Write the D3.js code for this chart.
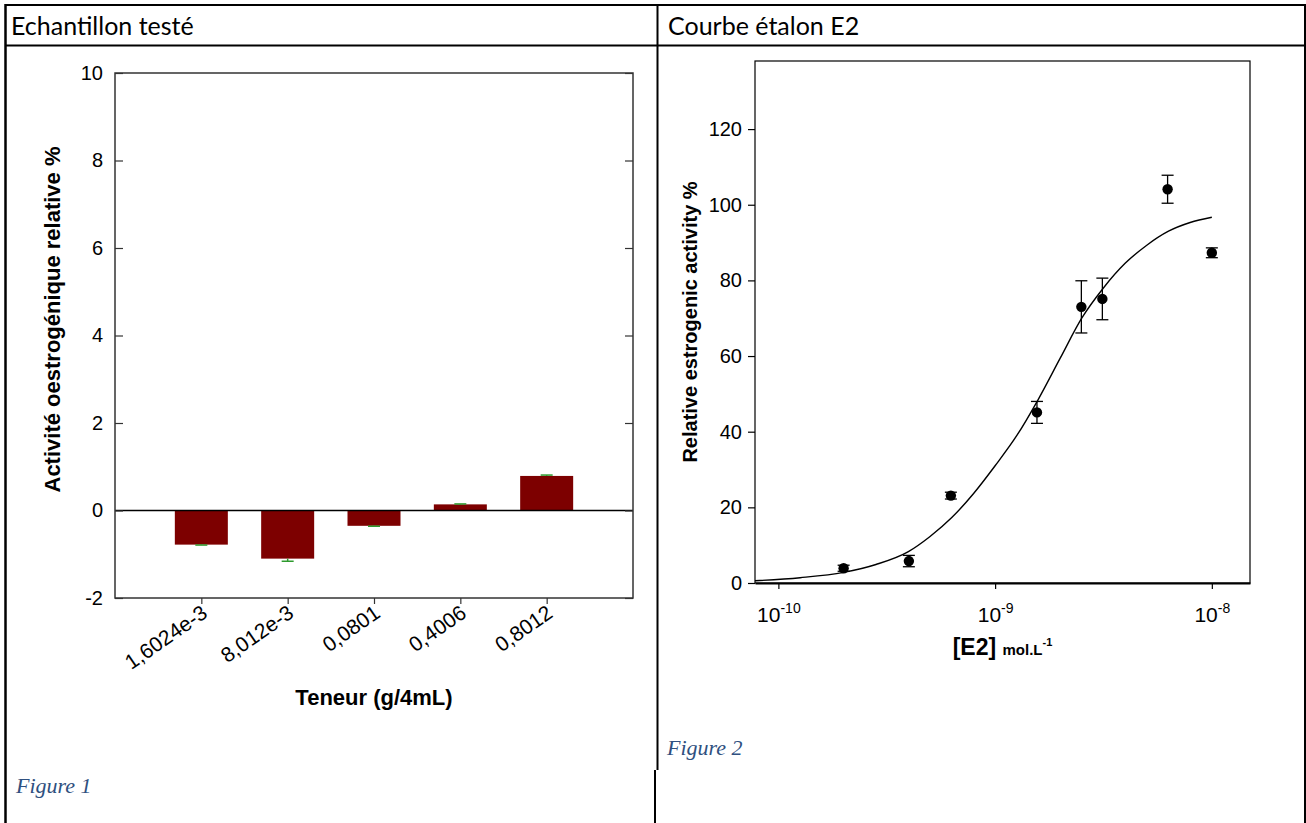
<!DOCTYPE html>
<html>
<head>
<meta charset="utf-8">
<script src="https://cdn.jsdelivr.net/npm/d3@7"></script>
<style>
    body { margin: 0; background: #fff; }
    svg text { font-family: "Liberation Sans", Arial, sans-serif; fill: #000; }
    .head { font-family: Lato, "Open Sans", sans-serif !important; font-size: 25px; }
    .caption { font-family: "Liberation Serif", serif !important; font-style: italic; font-size: 22px; fill: #2f5080 !important; }
    .axis-title { font-weight: bold; }
</style>
</head>
<body>
<svg id="page" width="1306" height="823"></svg>
<script>
// Figure 1 - tested sample
const teneurLabels = ["1,6024e-3", "8,012e-3", "0,0801", "0,4006", "0,8012"];
const activite = [-0.78, -1.10, -0.35, 0.14, 0.79];
const activiteErr = [0.01, 0.06, 0.01, 0.01, 0.02];
const leftTicks = [-2, 0, 2, 4, 6, 8, 10];

// Figure 2 - E2 standard curve
const e2Conc = [2e-10, 4e-10, 6.25e-10, 1.56e-9, 2.5e-9, 3.125e-9, 6.25e-9, 1e-8];
const e2Act = [3.9, 5.8, 23.1, 45.1, 73.0, 75.1, 104.1, 87.3];
const e2Err = [0.8, 1.5, 0.9, 2.9, 6.9, 5.5, 3.7, 1.3];
// fitted curve
const fitConc = [7.8e-11, 1.26e-10, 2.0e-10, 2.82e-10, 3.98e-10, 5.01e-10, 6.31e-10, 7.94e-10, 1e-9,
    1.26e-9, 1.58e-9, 2.0e-9, 2.51e-9, 3.16e-9, 3.98e-9, 5.01e-9, 6.31e-9, 7.94e-9, 1e-8];
const fitAct = [0.6, 1.4, 2.8, 4.9, 8.3, 12.3, 17.3, 23.6, 31.0,
    39.0, 48.5, 59.5, 70.0, 78.0, 84.5, 89.3, 93.0, 95.3, 96.7];
const rightYTicks = [0, 20, 40, 60, 80, 100, 120];
const rightXTicks = [1e-10, 1e-9, 1e-8];

const svg = d3.select("#page");

// Table lines
const grid = svg.append("g").attr("stroke", "#000").attr("stroke-width", 2);
grid.append("line").attr("x1", 5).attr("x2", 1306).attr("y1", 5).attr("y2", 5);
grid.append("line").attr("x1", 5).attr("x2", 1306).attr("y1", 45.5).attr("y2", 45.5);
grid.append("line").attr("x1", 5.5).attr("x2", 5.5).attr("y1", 4).attr("y2", 823).attr("stroke-width", 2.5);
grid.append("line").attr("x1", 657.5).attr("x2", 657.5).attr("y1", 4).attr("y2", 770);
grid.append("line").attr("x1", 655).attr("x2", 655).attr("y1", 770).attr("y2", 823);
grid.append("line").attr("x1", 1305).attr("x2", 1305).attr("y1", 4).attr("y2", 823);

svg.append("text").attr("class", "head").attr("x", 11).attr("y", 35).text("Echantillon testé");
svg.append("text").attr("class", "head").attr("x", 668).attr("y", 35).text("Courbe étalon E2");
svg.append("text").attr("class", "caption").attr("x", 16).attr("y", 793).text("Figure 1");
svg.append("text").attr("class", "caption").attr("x", 667).attr("y", 755).text("Figure 2");

// ---------- Left chart ----------
const L = { left: 115, right: 633, top: 73, bottom: 598 };
const lx = d3.scalePoint().domain(teneurLabels).range([L.left, L.right]).padding(1);
const ly = d3.scaleLinear().domain([-2, 10]).range([L.bottom, L.top]);
const barW = 53;

const left = svg.append("g");

// Bars
left.selectAll("rect.bar")
    .data(activite)
    .join("rect")
    .attr("class", "bar")
    .attr("x", (d, i) => lx(teneurLabels[i]) - barW / 2)
    .attr("y", d => ly(Math.max(0, d)))
    .attr("width", barW)
    .attr("height", d => Math.abs(ly(d) - ly(0)))
    .attr("fill", "#7d0000");

// Error bars (one sided, away from zero)
const errG = left.append("g").attr("stroke", "#2e9a2e").attr("stroke-width", 1.5);
activite.forEach((d, i) => {
    const cx = lx(teneurLabels[i]);
    const end = d < 0 ? d - activiteErr[i] : d + activiteErr[i];
    errG.append("line").attr("x1", cx).attr("x2", cx).attr("y1", ly(d)).attr("y2", ly(end));
    errG.append("line").attr("x1", cx - 6).attr("x2", cx + 6).attr("y1", ly(end)).attr("y2", ly(end));
});

// Zero line
left.append("line")
    .attr("x1", L.left).attr("x2", L.right)
    .attr("y1", ly(0)).attr("y2", ly(0))
    .attr("stroke", "#000").attr("stroke-width", 1.5);

// Frame
left.append("rect")
    .attr("x", L.left).attr("y", L.top)
    .attr("width", L.right - L.left).attr("height", L.bottom - L.top)
    .attr("fill", "none").attr("stroke", "#333").attr("stroke-width", 1.5);

// Y axis (ticks inside)
left.append("g")
    .attr("transform", `translate(${L.left},0)`)
    .call(d3.axisLeft(ly).tickValues(leftTicks).tickFormat(d => String(d))
        .tickSizeInner(-8).tickSizeOuter(0).tickPadding(12))
    .call(g => g.select(".domain").remove())
    .call(g => g.selectAll("line").attr("stroke", "#333").attr("stroke-width", 1.2))
    .call(g => g.selectAll("text").attr("font-size", 20).attr("font-family", null));

left.append("g")
    .attr("transform", `translate(${L.right},0)`)
    .call(d3.axisRight(ly).tickValues(leftTicks).tickSizeInner(-8).tickSizeOuter(0).tickFormat(""))
    .call(g => g.select(".domain").remove())
    .call(g => g.selectAll("line").attr("stroke", "#333").attr("stroke-width", 1.2));

// X axis (ticks outside, rotated labels)
left.append("g")
    .attr("transform", `translate(0,${L.bottom})`)
    .call(d3.axisBottom(lx).tickSizeInner(6).tickSizeOuter(0))
    .call(g => g.select(".domain").remove())
    .call(g => g.selectAll("line").attr("stroke", "#333").attr("stroke-width", 1.2))
    .call(g => g.selectAll("text")
        .attr("font-size", 21).attr("font-family", null)
        .attr("x", 0).attr("y", 0).attr("dy", 0)
        .attr("text-anchor", "end")
        .attr("transform", "translate(7,18) rotate(-35)"));

left.append("text")
    .attr("class", "axis-title")
    .attr("transform", `translate(52,${(L.top + L.bottom) / 2 - 16}) rotate(-90)`)
    .attr("text-anchor", "middle")
    .attr("dy", "0.35em")
    .attr("font-size", 22)
    .text("Activité oestrogénique relative %");

left.append("text")
    .attr("class", "axis-title")
    .attr("x", (L.left + L.right) / 2)
    .attr("y", 705)
    .attr("text-anchor", "middle")
    .attr("font-size", 22)
    .text("Teneur (g/4mL)");

// ---------- Right chart ----------
const R = { left: 755, right: 1250, top: 61, bottom: 583 };
const rx = d3.scaleLog().domain([7.8e-11, 1.5e-8]).range([R.left, R.right]);
const ry = d3.scaleLinear().domain([0, 138]).range([R.bottom, R.top]);

const right = svg.append("g");

right.append("rect")
    .attr("x", R.left).attr("y", R.top)
    .attr("width", R.right - R.left).attr("height", R.bottom - R.top)
    .attr("fill", "none").attr("stroke", "#000").attr("stroke-width", 1.2);

right.append("g")
    .attr("transform", `translate(${R.left},0)`)
    .call(d3.axisLeft(ry).tickValues(rightYTicks).tickSizeInner(7).tickSizeOuter(0).tickPadding(6))
    .call(g => g.select(".domain").remove())
    .call(g => g.selectAll("line").attr("stroke-width", 1.2))
    .call(g => g.selectAll("text").attr("font-size", 20).attr("font-family", null));

const xAx = right.append("g")
    .attr("transform", `translate(0,${R.bottom})`)
    .call(d3.axisBottom(rx).tickValues(rightXTicks).tickSizeInner(6).tickSizeOuter(0).tickFormat(""))
    .call(g => g.select(".domain").attr("stroke-width", 2))
    .call(g => g.selectAll("line").attr("stroke-width", 1.2));

// 10^n labels
xAx.selectAll(".tick").append("text")
    .attr("y", 39)
    .attr("text-anchor", "middle")
    .attr("font-size", 21)
    .each(function (d) {
        const t = d3.select(this);
        t.append("tspan").text("10");
        t.append("tspan").attr("dy", -9).attr("font-size", 14).text(Math.round(Math.log10(d)));
    });

// Fitted curve
const fitLine = d3.line()
    .x((d, i) => rx(fitConc[i]))
    .y(d => ry(d))
    .curve(d3.curveMonotoneX);

right.append("path")
    .datum(fitAct)
    .attr("d", fitLine)
    .attr("fill", "none")
    .attr("stroke", "#000")
    .attr("stroke-width", 1.4);

// Error bars and points
const eb = right.append("g").attr("stroke", "#000").attr("stroke-width", 1.3);
e2Act.forEach((d, i) => {
    const cx = rx(e2Conc[i]);
    const y0 = ry(d - e2Err[i]), y1 = ry(d + e2Err[i]);
    eb.append("line").attr("x1", cx).attr("x2", cx).attr("y1", y0).attr("y2", y1);
    eb.append("line").attr("x1", cx - 6).attr("x2", cx + 6).attr("y1", y0).attr("y2", y0);
    eb.append("line").attr("x1", cx - 6).attr("x2", cx + 6).attr("y1", y1).attr("y2", y1);
});

right.selectAll("circle")
    .data(e2Act)
    .join("circle")
    .attr("cx", (d, i) => rx(e2Conc[i]))
    .attr("cy", d => ry(d))
    .attr("r", 5.2)
    .attr("fill", "#000");

right.append("text")
    .attr("class", "axis-title")
    .attr("transform", `translate(690,${(R.top + R.bottom) / 2}) rotate(-90)`)
    .attr("text-anchor", "middle")
    .attr("dy", "0.35em")
    .attr("font-size", 20)
    .text("Relative estrogenic activity %");

const xt = right.append("text")
    .attr("class", "axis-title")
    .attr("x", (R.left + R.right) / 2)
    .attr("y", 655)
    .attr("text-anchor", "middle")
    .attr("font-size", 23);
xt.append("tspan").text("[E2] ");
xt.append("tspan").attr("font-size", 15).text("mol.L");
xt.append("tspan").attr("font-size", 11).attr("dy", -9).text("-1");
</script>
</body>
</html>
